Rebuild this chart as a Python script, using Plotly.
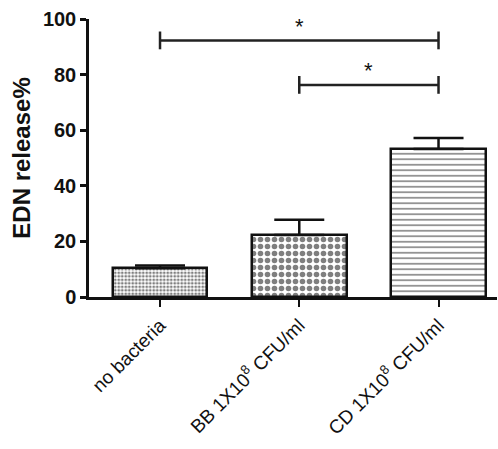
import plotly.graph_objects as go

# Group labels, mean EDN release and SEM
categories = ["no bacteria", "BB 1X10<sup>8</sup> CFU/ml", "CD 1X10<sup>8</sup> CFU/ml"]
edn_release = [10.3, 22.3, 53.2]
sem = [1.0, 5.5, 4.0]

# Significance brackets: (left group, right group, bracket height, label)
comparisons = [(0, 2, 92.3, "*"), (1, 2, 76.3, "*")]

y_ticks = [0, 20, 40, 60, 80, 100]

FONT = "Liberation Sans, Arial"
INK = "#111111"

x_pos = list(range(len(categories)))
patterns = [
    dict(shape=".", size=3.5, solidity=0.5, fgcolor="#000000", bgcolor="white"),
    dict(shape=".", size=7, solidity=0.5, fgcolor="#000000", bgcolor="white"),
    dict(shape="-", size=5.5, solidity=0.3, fgcolor="#111111", bgcolor="white"),
]

fig = go.Figure()
for i, (x, v, e) in enumerate(zip(x_pos, edn_release, sem)):
    fig.add_trace(go.Bar(
        x=[x], y=[v], width=0.68,
        marker=dict(color="white", pattern=patterns[i],
                    line=dict(color=INK, width=2.5)),
        error_y=dict(type="data", symmetric=False, array=[e], arrayminus=[0],
                     color=INK, thickness=2.5, width=25),
        showlegend=False,
    ))

shapes = []
annotations = []
for a, b, h, label in comparisons:
    shapes.append(dict(type="line", xref="x", yref="y", x0=a, x1=b, y0=h, y1=h,
                       line=dict(color="#222222", width=2.5)))
    for end in (a, b):
        shapes.append(dict(type="line", xref="x", yref="y", x0=end, x1=end,
                           y0=h - 3.2, y1=h + 3.2,
                           line=dict(color="#222222", width=2.5)))
    annotations.append(dict(x=(a + b) / 2, y=h + 6.5, xref="x", yref="y",
                            text=label, showarrow=False, yanchor="middle",
                            yshift=-4,
                            font=dict(size=22, color=INK, family=FONT)))

fig.update_layout(
    width=498, height=449,
    margin=dict(l=89, r=1, t=19, b=152),
    paper_bgcolor="white", plot_bgcolor="white",
    font=dict(family=FONT, color=INK),
    shapes=shapes, annotations=annotations,
    bargap=0,
)
fig.update_xaxes(
    range=[-0.51, 2.42], tickvals=x_pos, ticktext=categories,
    tickangle=-45, ticks="outside", ticklen=7, tickwidth=2, tickcolor=INK,
    showline=True, linecolor=INK, linewidth=2.5,
    showgrid=False, zeroline=False, automargin=False,
    tickfont=dict(size=19, family=FONT, color=INK),
)
fig.update_yaxes(
    range=[0, 100], tickvals=y_ticks, ticks="outside", ticklen=6, tickwidth=2.5,
    tickcolor=INK, showline=True, linecolor=INK, linewidth=2.5,
    showgrid=False, zeroline=False, automargin=False,
    tickfont=dict(size=20, family=FONT, color=INK, weight="bold"),
    title=dict(text="<b>EDN release%</b>", standoff=6,
               font=dict(size=24, family=FONT, color=INK)),
)

fig.write_html("out.html")
